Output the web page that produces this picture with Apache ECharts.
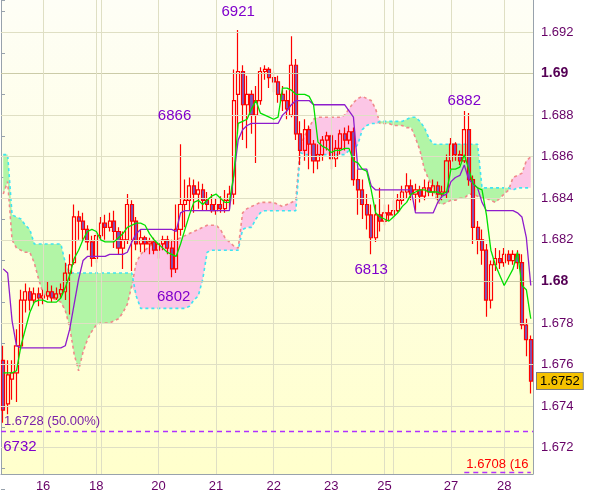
<!DOCTYPE html>
<html><head><meta charset="utf-8">
<script src="https://cdn.jsdelivr.net/npm/echarts@6/dist/echarts.min.js"></script>
<style>html,body{margin:0;padding:0;background:#fff}#c{width:600px;height:497px}</style>
</head><body><div id="c"></div>
<script>
// [open, close, low, high]
const candles = [
[1.6762,1.6738,1.6732,1.6769],[1.6741,1.6755,1.6736,1.6762],[1.6753,1.6756,1.6743,1.6762],[1.6756,1.6769,1.6742,1.6777],[1.6769,1.6791,1.6767,1.6796],
[1.6791,1.6795,1.6785,1.6799],[1.6795,1.6791,1.6786,1.6797],[1.6791,1.6794,1.6789,1.6797],[1.6794,1.6792,1.6788,1.6797],[1.6792,1.6793,1.6789,1.6796],
[1.6793,1.6795,1.6791,1.6800],[1.6795,1.6792,1.6790,1.6798],[1.6792,1.6794,1.6791,1.6797],[1.6794,1.6796,1.6792,1.6799],[1.6795,1.6804,1.6791,1.6809],
[1.6804,1.6808,1.6784,1.6813],[1.6809,1.6831,1.6808,1.6837],[1.6831,1.6829,1.6820,1.6834],[1.6829,1.6825,1.6820,1.6833],[1.6825,1.6819,1.6815,1.6827],
[1.6819,1.6811,1.6807,1.6822],[1.6811,1.6822,1.6809,1.6825],[1.6822,1.6828,1.6820,1.6831],[1.6828,1.6826,1.6820,1.6832],[1.6826,1.6829,1.6824,1.6833],
[1.6829,1.6824,1.6816,1.6834],[1.6824,1.6816,1.6813,1.6826],[1.6816,1.6820,1.6806,1.6824],[1.6820,1.6837,1.6818,1.6842],[1.6837,1.6829,1.6805,1.6839],
[1.6829,1.6818,1.6815,1.6831],[1.6818,1.6821,1.6814,1.6825],[1.6821,1.6818,1.6814,1.6822],[1.6818,1.6819,1.6813,1.6821],[1.6819,1.6815,1.6813,1.6821],
[1.6815,1.6818,1.6811,1.6820],[1.6818,1.6820,1.6815,1.6822],[1.6820,1.6816,1.6813,1.6822],[1.6816,1.6806,1.6802,1.6820],[1.6806,1.6825,1.6804,1.6837],
[1.6825,1.6837,1.6822,1.6866],[1.6837,1.6839,1.6826,1.6849],[1.6839,1.6846,1.6834,1.6850],[1.6846,1.6842,1.6833,1.6849],[1.6842,1.6844,1.6835,1.6848],
[1.6844,1.6839,1.6834,1.6847],[1.6839,1.6837,1.6834,1.6843],[1.6837,1.6834,1.6833,1.6842],[1.6834,1.6837,1.6832,1.6840],[1.6837,1.6835,1.6833,1.6841],
[1.6835,1.6839,1.6833,1.6844],[1.6839,1.6842,1.6835,1.6846],[1.6842,1.6887,1.6837,1.6902],[1.6890,1.6901,1.6871,1.6921],[1.6901,1.6885,1.6868,1.6904],
[1.6885,1.6890,1.6864,1.6899],[1.6890,1.6880,1.6871,1.6892],[1.6880,1.6887,1.6857,1.6894],[1.6887,1.6901,1.6885,1.6903],[1.6901,1.6902,1.6897,1.6904],
[1.6902,1.6898,1.6893,1.6903],[1.6898,1.6896,1.6891,1.6901],[1.6896,1.6890,1.6886,1.6899],[1.6890,1.6887,1.6882,1.6894],[1.6887,1.6883,1.6878,1.6892],
[1.6880,1.6904,1.6879,1.6918],[1.6904,1.6871,1.6868,1.6907],[1.6871,1.6863,1.6856,1.6877],[1.6863,1.6873,1.6858,1.6878],[1.6873,1.6866,1.6854,1.6875],
[1.6866,1.6858,1.6852,1.6868],[1.6858,1.6861,1.6854,1.6866],[1.6861,1.6868,1.6858,1.6870],[1.6868,1.6870,1.6863,1.6872],[1.6870,1.6859,1.6854,1.6871],
[1.6859,1.6864,1.6855,1.6868],[1.6864,1.6871,1.6861,1.6873],[1.6871,1.6868,1.6863,1.6874],[1.6868,1.6872,1.6866,1.6875],[1.6872,1.6849,1.6846,1.6874],
[1.6849,1.6844,1.6832,1.6854],[1.6844,1.6837,1.6830,1.6849],[1.6837,1.6832,1.6825,1.6842],[1.6832,1.6821,1.6813,1.6837],[1.6821,1.6832,1.6819,1.6837],
[1.6832,1.6829,1.6824,1.6845],[1.6829,1.6833,1.6827,1.6837],[1.6833,1.6832,1.6829,1.6837],[1.6832,1.6834,1.6830,1.6839],[1.6834,1.6839,1.6833,1.6842],
[1.6839,1.6843,1.6837,1.6846],[1.6843,1.6846,1.6840,1.6852],[1.6846,1.6842,1.6839,1.6849],[1.6842,1.6844,1.6834,1.6847],[1.6844,1.6841,1.6838,1.6846],
[1.6841,1.6845,1.6839,1.6849],[1.6845,1.6843,1.6841,1.6848],[1.6843,1.6846,1.6841,1.6849],[1.6846,1.6842,1.6839,1.6848],[1.6842,1.6843,1.6839,1.6846],
[1.6843,1.6858,1.6840,1.6861],[1.6858,1.6866,1.6854,1.6869],[1.6866,1.6861,1.6858,1.6867],[1.6861,1.6858,1.6856,1.6863],[1.6858,1.6873,1.6857,1.6882],
[1.6873,1.6849,1.6846,1.6881],[1.6849,1.6826,1.6818,1.6851],[1.6826,1.6820,1.6813,1.6829],[1.6820,1.6815,1.6808,1.6825],[1.6815,1.6791,1.6783,1.6818],
[1.6791,1.6808,1.6787,1.6810],[1.6808,1.6811,1.6805,1.6816],[1.6811,1.6809,1.6806,1.6815],[1.6809,1.6813,1.6807,1.6816],[1.6813,1.6810,1.6808,1.6815],
[1.6810,1.6813,1.6808,1.6815],[1.6813,1.6809,1.6806,1.6815],[1.6809,1.6779,1.6777,1.6813],[1.6779,1.6772,1.6764,1.6782],[1.6772,1.6752,1.6746,1.6774]
];
const tenkan = [
1.6756,1.6756,1.6756,1.6757,1.6769,1.6777,1.6785,1.6790,1.6791,1.6791,
1.6790,1.6790,1.6790,1.6792,1.6797,1.6803,1.6811,1.6815,1.6820,1.6824,
1.6825,1.6824,1.6820,1.6819,1.6819,1.6819,1.6821,1.6823,1.6826,1.6827,
1.6828,1.6828,1.6827,1.6823,1.6820,1.6818,1.6816,1.6814,1.6813,1.6812,
1.6818,1.6825,1.6832,1.6838,1.6839,1.6837,1.6839,1.6841,1.6842,1.6840,
1.6838,1.6838,1.6851,1.6876,1.6877,1.6878,1.6883,1.6887,1.6881,1.6880,
1.6879,1.6878,1.6879,1.6893,1.6893,1.6892,1.6890,1.6890,1.6890,1.6889,
1.6885,1.6867,1.6865,1.6864,1.6862,1.6863,1.6863,1.6864,1.6864,1.6858,
1.6857,1.6854,1.6853,1.6844,1.6833,1.6831,1.6830,1.6829,1.6831,1.6833,
1.6836,1.6838,1.6842,1.6843,1.6844,1.6844,1.6843,1.6843,1.6843,1.6842,
1.6843,1.6854,1.6854,1.6855,1.6861,1.6854,1.6847,1.6845,1.6844,1.6832,
1.6815,1.6808,1.6803,1.6798,1.6802,1.6806,1.6814,1.6798,1.6796,1.6782
];
const kijun = [
1.6806,1.6804,1.6781,1.6769,1.6768,1.6768,1.6768,1.6768,1.6768,1.6768,
1.6768,1.6768,1.6768,1.6768,1.6769,1.6777,1.6789,1.6801,1.6810,1.6812,
1.6812,1.6812,1.6812,1.6812,1.6813,1.6813,1.6813,1.6813,1.6814,1.6819,
1.6823,1.6825,1.6825,1.6825,1.6825,1.6825,1.6825,1.6825,1.6825,1.6824,
1.6833,1.6834,1.6834,1.6834,1.6834,1.6834,1.6834,1.6834,1.6834,1.6834,
1.6834,1.6834,1.6851,1.6868,1.6873,1.6875,1.6876,1.6876,1.6876,1.6876,
1.6876,1.6876,1.6876,1.6880,1.6882,1.6885,1.6887,1.6887,1.6887,1.6887,
1.6885,1.6885,1.6885,1.6885,1.6885,1.6885,1.6885,1.6885,1.6882,1.6879,
1.6854,1.6854,1.6854,1.6846,1.6844,1.6844,1.6844,1.6844,1.6844,1.6844,
1.6844,1.6844,1.6844,1.6833,1.6833,1.6833,1.6833,1.6833,1.6838,1.6841,
1.6842,1.6848,1.6850,1.6851,1.6856,1.6849,1.6847,1.6845,1.6838,1.6834,
1.6834,1.6834,1.6834,1.6834,1.6834,1.6834,1.6833,1.6831,1.6821,1.6798
];
const spanA = [
1.6842,1.6848,1.6820,1.6816,1.6815,1.6814,1.6814,1.6809,1.6801,1.6794,
1.6793,1.6792,1.6791,1.6790,1.6786,1.6778,1.6765,1.6757,1.6766,1.6772,
1.6776,1.6779,1.6780,1.6780,1.6780,1.6781,1.6782,1.6785,1.6789,1.6798,
1.6809,1.6813,1.6815,1.6817,1.6818,1.6818,1.6818,1.6819,1.6819,1.6820,
1.6821,1.6822,1.6823,1.6824,1.6825,1.6826,1.6827,1.6827,1.6827,1.6825,
1.6821,1.6819,1.6817,1.6816,1.6833,1.6835,1.6836,1.6837,1.6838,1.6838,
1.6838,1.6838,1.6837,1.6836,1.6837,1.6838,1.6839,1.6865,1.6870,1.6874,
1.6878,1.6879,1.6879,1.6879,1.6879,1.6879,1.6879,1.6880,1.6883,1.6886,
1.6888,1.6889,1.6888,1.6887,1.6883,1.6876,1.6876,1.6876,1.6875,1.6875,
1.6875,1.6874,1.6874,1.6869,1.6863,1.6854,1.6849,1.6844,1.6838,1.6837,
1.6838,1.6839,1.6839,1.6840,1.6840,1.6842,1.6842,1.6841,1.6840,1.6840,
1.6839,1.6838,1.6840,1.6842,1.6844,1.6850,1.6851,1.6852,1.6858,1.6860
];
const spanB = [
1.6861,1.6861,1.6832,1.6831,1.6830,1.6827,1.6825,1.6818,1.6818,1.6818,
1.6818,1.6818,1.6818,1.6818,1.6809,1.6804,1.6804,1.6804,1.6804,1.6804,
1.6804,1.6804,1.6804,1.6804,1.6804,1.6804,1.6804,1.6804,1.6804,1.6804,
1.6793,1.6787,1.6787,1.6787,1.6787,1.6787,1.6787,1.6787,1.6787,1.6787,
1.6787,1.6787,1.6788,1.6791,1.6793,1.6801,1.6814,1.6815,1.6815,1.6815,
1.6815,1.6815,1.6815,1.6815,1.6825,1.6826,1.6826,1.6830,1.6833,1.6834,
1.6834,1.6834,1.6834,1.6834,1.6834,1.6834,1.6834,1.6862,1.6861,1.6861,
1.6861,1.6861,1.6861,1.6861,1.6861,1.6861,1.6861,1.6861,1.6863,1.6863,
1.6866,1.6873,1.6875,1.6876,1.6876,1.6877,1.6877,1.6877,1.6877,1.6877,
1.6877,1.6878,1.6879,1.6879,1.6877,1.6874,1.6869,1.6866,1.6866,1.6866,
1.6866,1.6866,1.6866,1.6866,1.6866,1.6866,1.6866,1.6866,1.6845,1.6845,
1.6845,1.6845,1.6845,1.6845,1.6845,1.6844,1.6845,1.6845,1.6845,1.6845
];
const dayLabels = ['16','18','20','21','22','23','25','27','28'];
const dayIndex = [9,21,35,48,61,74,86,101,113];
const sessionBreaks = [22,88];
const yTickValues = [1.672,1.674,1.676,1.678,1.680,1.682,1.684,1.686,1.688,1.690,1.692];
const yRange = [1.67073, 1.69354];
const labelAxisMin = 1.670;
const fibLevel = {value: 1.6728, text: '1.6728 (50.00%)'};
const extLevel = {value: 1.6708, text: '1.6708 (16', fromIndex: 104};
const annotations = [
  {kind:'high', range:[50,58], offset:[0,-18], align:'center'},
  {kind:'high', range:[38,44], offset:[-6,-28], align:'center'},
  {kind:'high', range:[100,108], offset:[0,-10], align:'center'},
  {kind:'low', range:[80,90], offset:[0,16], align:'center'},
  {kind:'low', range:[30,40], offset:[2,20], align:'center'},
  {kind:'low', range:[0,4], offset:[0,24], align:'left'}
];

const N = candles.length;
const cats = candles.map((_, i) => String(i));
const lastPrice = candles[N - 1][1];
const cloudBase = spanA.map((a, i) => Math.min(a, spanB[i]));
const greenDiff = spanA.map((a, i) => Math.max(0, spanB[i] - a));
const pinkDiff = spanA.map((a, i) => Math.max(0, a - spanB[i]));
const AX = '#98a2ac';
const TXT = '#660066';
const FONT = 'Liberation Sans, Arial, sans-serif';
const CLEAR = 'rgba(0,0,0,0)';
const LEVEL = '#b030ff';

const annData = annotations.map(a => {
  let best = a.range[0];
  for (let i = a.range[0]; i <= a.range[1]; i++) {
    if (a.kind === 'high' ? candles[i][3] > candles[best][3] : candles[i][2] < candles[best][2]) best = i;
  }
  const v = a.kind === 'high' ? candles[best][3] : candles[best][2];
  const txt = String(Math.round(v * 10000) % 10000);
  return {coord: [String(best), v], value: txt,
    label: {show: true, position: 'inside', formatter: txt, offset: a.offset, align: a.align,
      color: '#8000cc', fontSize: 15, fontFamily: FONT}};
});

const isMajor = v => Math.abs(v * 100 - Math.round(v * 100)) < 1e-6;

const chart = echarts.init(document.getElementById('c'), null, {renderer: 'canvas'});
chart.setOption({
  animation: false,
  backgroundColor: '#ffffff',
  grid: [
    {left: 1, right: 67, top: 0, bottom: 23, show: true, borderWidth: 0,
     backgroundColor: {type: 'linear', x: 0, y: 0, x2: 0, y2: 1,
       colorStops: [{offset: 0, color: '#fefef6'}, {offset: 1, color: '#ffffcc'}]}},
    {left: 1, right: 67, top: 0, bottom: 7.8, show: false}
  ],
  xAxis: [
    {type: 'category', gridIndex: 0, data: cats, boundaryGap: true,
     axisLine: {lineStyle: {color: AX}},
     axisTick: {alignWithLabel: true, length: 4, interval: (i) => dayIndex.includes(i), lineStyle: {color: AX}},
     axisLabel: {interval: (i) => dayIndex.includes(i), formatter: (v) => {
        const k = dayIndex.indexOf(Number(v)); return k >= 0 ? dayLabels[k] : ''; },
       color: TXT, fontSize: 13, fontFamily: FONT, margin: 6},
     splitLine: {show: false}},
    {type: 'value', gridIndex: 1, show: false, min: 0, max: 1}
  ],
  yAxis: [
    {type: 'value', gridIndex: 0, position: 'right', min: yRange[0], max: yRange[1], scale: true,
     axisLine: {show: true, lineStyle: {color: AX}}, axisTick: {show: false},
     axisLabel: {show: false}, splitLine: {show: false}},
    {type: 'value', gridIndex: 1, position: 'right', min: labelAxisMin, max: yRange[1], interval: 0.002,
     axisLine: {show: false},
     axisTick: {show: true, length: 4, lineStyle: {color: AX}},
     minorTick: {show: true, splitNumber: 2, length: 4, lineStyle: {color: AX}},
     splitLine: {show: false},
     axisLabel: {margin: 8, color: TXT, fontSize: 13, fontFamily: FONT, showMaxLabel: false,
       formatter: (v) => {
         if (v < 1.6715 || v > 1.6925) return '';
         return isMajor(v) ? '{b|' + v.toFixed(2) + '}' : v.toFixed(3);
       },
       rich: {b: {fontWeight: 'bold', color: '#550055', fontSize: 14, fontFamily: FONT}}}},
    {type: 'value', gridIndex: 0, position: 'left', min: yRange[0], max: yRange[1], scale: true,
     axisLine: {show: true, lineStyle: {color: AX}}, axisTick: {show: false},
     axisLabel: {show: false}, splitLine: {show: false}}
  ],
  series: [
    {type: 'line', xAxisIndex: 0, yAxisIndex: 0, data: tenkan, symbol: 'none', z: 1, silent: true,
     lineStyle: {color: CLEAR, width: 1},
     markLine: {silent: true, symbol: 'none', animation: false, precision: 6, label: {show: false},
       data: [
         ...yTickValues.map(v => ({yAxis: v, lineStyle: {color: isMajor(v) ? '#cbcba8' : '#dfdfc4', width: 1, type: 'solid'}})),
         ...dayIndex.concat(sessionBreaks).map(i => ({xAxis: String(i), lineStyle: {color: '#dfdfc4', width: 1, type: 'solid'}}))
       ]}},
    {type: 'line', data: cloudBase, stack: 'g', symbol: 'none', silent: true, lineStyle: {color: CLEAR}, z: 2},
    {type: 'line', data: greenDiff, stack: 'g', symbol: 'none', silent: true, lineStyle: {color: CLEAR},
     areaStyle: {color: '#b2f5a6', opacity: 1}, z: 2},
    {type: 'line', data: cloudBase, stack: 'p', symbol: 'none', silent: true, lineStyle: {color: CLEAR}, z: 2},
    {type: 'line', data: pinkDiff, stack: 'p', symbol: 'none', silent: true, lineStyle: {color: CLEAR},
     areaStyle: {color: '#fcc6e6', opacity: 1}, z: 2},
    {type: 'line', data: spanA, symbol: 'none', silent: true, z: 3,
     lineStyle: {color: '#f08a8a', width: 1.6, type: [3, 3]}},
    {type: 'line', data: spanB, symbol: 'none', silent: true, z: 3,
     lineStyle: {color: '#3fe4f2', width: 1.6, type: [3, 3]}},
    {type: 'candlestick', data: candles, barWidth: 3.6, z: 4,
     itemStyle: {color: 'rgba(255,255,255,0)', color0: '#7a56bc', borderColor: '#ff0000', borderColor0: '#ff0000', borderWidth: 1.2},
     markPoint: {symbol: 'circle', symbolSize: 1, silent: true, precision: 6, itemStyle: {color: CLEAR}, data: annData}},
    {type: 'line', data: kijun, symbol: 'none', silent: true, z: 5, lineStyle: {color: '#8e1ccc', width: 1.3}},
    {type: 'line', data: tenkan, symbol: 'none', silent: true, z: 5, lineStyle: {color: '#00e000', width: 1.3}},
    {type: 'line', data: tenkan, symbol: 'none', z: 6, silent: true, lineStyle: {color: CLEAR},
     markLine: {silent: true, symbol: 'none', animation: false, precision: 6,
       lineStyle: {color: LEVEL, width: 1.4, type: [5, 4], opacity: 1},
       data: [
         {yAxis: fibLevel.value,
          label: {show: true, position: 'insideStartTop', distance: 3, formatter: fibLevel.text,
            color: '#7a20a8', fontSize: 13, fontFamily: FONT}},
         {yAxis: lastPrice, lineStyle: {color: CLEAR, width: 1},
          label: {show: true, position: 'end', distance: 4, formatter: lastPrice.toFixed(4),
            backgroundColor: '#f5c200', borderColor: '#7d7d7d', borderWidth: 1, padding: [2, 3, 1, 3],
            color: '#000', fontSize: 13, fontFamily: FONT}},
         [{coord: [String(extLevel.fromIndex), extLevel.value],
           label: {show: true, position: 'insideStartTop', distance: 2, formatter: extLevel.text,
             color: '#ff0000', fontSize: 13, fontFamily: FONT}},
          {coord: [String(N - 1), extLevel.value]}]
       ]}}
  ]
});
</script></body></html>
